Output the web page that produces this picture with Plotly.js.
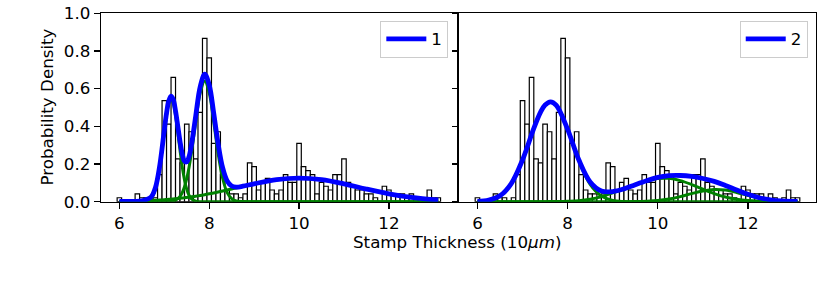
<!DOCTYPE html>
<html>
<head>
<meta charset="utf-8">
<script src="https://cdn.plot.ly/plotly-3.0.1.min.js"></script>
<style>html,body{margin:0;padding:0;background:#fff;}#chart{width:831px;height:285px;}</style>
</head>
<body>
<div id="chart"></div>
<script>
// Histogram bins (stamp thickness, units of 10 um) and density heights
const binCenters = [6.0,6.1,6.2,6.3,6.4,6.5,6.6,6.7,6.8,6.9,
  7.0,7.1,7.2,7.3,7.4,7.5,7.6,7.7,7.8,7.9,
  8.0,8.1,8.2,8.3,8.4,8.5,8.6,8.7,8.8,8.9,
  9.0,9.1,9.2,9.3,9.4,9.5,9.6,9.7,9.8,9.9,
  10.0,10.1,10.2,10.3,10.4,10.5,10.6,10.7,10.8,10.9,
  11.0,11.1,11.2,11.3,11.4,11.5,11.6,11.7,11.8,11.9,
  12.0,12.1,12.2,12.3,12.4,12.5,12.6,12.7,12.8,12.9,
  13.0,13.1];
const densities = [0.021,0,0,0,0.041,0.021,0.021,0,0.021,0.144,
  0.536,0.412,0.660,0.227,0.206,0.412,0.371,0.227,0.474,0.866,
  0.763,0.309,0.371,0.144,0.062,0.041,0.041,0.021,0.041,0.206,
  0.186,0.062,0.103,0.124,0.062,0.041,0.062,0.144,0.103,0.103,
  0.309,0.186,0.165,0.144,0.041,0.103,0.082,0.062,0.144,0.144,
  0.227,0.103,0.082,0.062,0.062,0.041,0.041,0.021,0,0.082,
  0.062,0.041,0.041,0.041,0.021,0.041,0.021,0,0.021,0.062,
  0.021,0.021];

// Model 1 curves (left panel)
const m1x = [6.0,6.5,6.7,6.8,6.9,7.0,7.05,7.1,7.15,7.2,7.25,7.3,7.35,7.4,7.45,7.5,7.55,7.6,7.7,7.8,7.9,8.0,8.1,8.2,8.3,8.4,8.5,8.6,8.75,9.0,9.5,10.0,10.5,11.0,11.5,12.0,12.5,13.1];
const m1Total = [0.002,0.005,0.023,0.073,0.194,0.380,0.470,0.535,0.560,0.541,0.482,0.401,0.319,0.253,0.215,0.211,0.239,0.295,0.456,0.611,0.677,0.619,0.470,0.304,0.179,0.110,0.083,0.077,0.082,0.095,0.117,0.125,0.117,0.095,0.067,0.042,0.023,0.009];
const m1CompA = [0,0.0004,0.016,0.066,0.185,0.369,0.458,0.522,0.545,0.522,0.458,0.369,0.273,0.185,0.115,0.066,0.034,0.016,0.003,0,0,0,0,0,0,0,0,0,0,0,0,0,0,0,0,0,0,0];
const m1CompB = [0,0,0,0,0,0,0.0004,0.001,0.002,0.004,0.008,0.016,0.028,0.048,0.079,0.123,0.181,0.253,0.423,0.577,0.640,0.577,0.423,0.253,0.123,0.048,0.016,0.004,0.0005,0,0,0,0,0,0,0,0,0];
const m1CompC = [0.0016,0.0043,0.0063,0.0075,0.0089,0.0106,0.0115,0.0125,0.0135,0.0146,0.0157,0.0169,0.0182,0.0196,0.021,0.0225,0.0241,0.0257,0.0293,0.0331,0.0373,0.0417,0.0464,0.0514,0.0566,0.0619,0.0674,0.073,0.0814,0.095,0.1167,0.125,0.1167,0.095,0.0674,0.0417,0.0225,0.0089];

// Model 2 curves (right panel)
const m2x = [6.0,6.25,6.5,6.75,7.0,7.25,7.4,7.5,7.62,7.75,8.0,8.25,8.5,8.75,9.0,9.25,9.5,9.75,10.0,10.25,10.5,10.75,11.0,11.25,11.5,11.75,12.0,12.25,12.5,12.75,13.1];
const m2Total = [0.001,0.008,0.031,0.096,0.222,0.389,0.475,0.513,0.530,0.511,0.384,0.221,0.105,0.057,0.054,0.068,0.090,0.111,0.129,0.138,0.139,0.134,0.123,0.108,0.086,0.062,0.039,0.021,0.010,0.004,0.001];
const m2CompD = [0.001,0.008,0.031,0.096,0.222,0.389,0.475,0.513,0.530,0.510,0.382,0.216,0.092,0.030,0.007,0.001,0,0,0,0,0,0,0,0,0,0,0,0,0,0,0];
const m2CompE = [0,0,0,0,0,0,0.0001,0.0002,0.0004,0.0007,0.002,0.005,0.013,0.027,0.047,0.067,0.089,0.109,0.1225,0.124,0.112,0.091,0.066,0.043,0.025,0.013,0.006,0.0025,0.001,0.0003,0];
const m2CompF = [0,0,0,0,0,0,0,0,0,0,0,0,0,0,0,0.0002,0.0007,0.0023,0.006,0.014,0.027,0.043,0.057,0.065,0.0615,0.049,0.033,0.019,0.009,0.0035,0.0007];

const xTicks = [6, 8, 10, 12];
const yTicks = [0, 0.2, 0.4, 0.6, 0.8, 1.0];
const yTickText = ['0.0', '0.2', '0.4', '0.6', '0.8', '1.0'];
const legendNames = ['1', '2'];
const xLabel = 'Stamp Thickness (10<i>μm</i>)';
const yLabel = 'Probability Density';

const BLUE = '#0000ff', GREEN = '#008000';

function hist(xa, ya) {
  return {type:'bar', x: binCenters, y: densities, width: 0.1, xaxis: xa, yaxis: ya,
    marker:{color:'#ffffff', line:{color:'#000000', width:1.2}}, showlegend:false, hoverinfo:'skip'};
}
function comp(x, y, xa, ya) {
  return {type:'scatter', mode:'lines', x: x, y: y, xaxis: xa, yaxis: ya,
    line:{color:GREEN, width:3, shape:'spline', smoothing:1}, showlegend:false, hoverinfo:'skip'};
}
function total(x, y, xa, ya, name, lg) {
  return {type:'scatter', mode:'lines', x: x, y: y, xaxis: xa, yaxis: ya, name: name, legend: lg,
    line:{color:BLUE, width:4.8, shape:'spline', smoothing:1}, showlegend:true, hoverinfo:'skip'};
}

const traces = [
  hist('x','y'),
  comp(m1x, m1CompA, 'x','y'), comp(m1x, m1CompB, 'x','y'), comp(m1x, m1CompC, 'x','y'),
  total(m1x, m1Total, 'x','y', legendNames[0], 'legend'),
  hist('x2','y2'),
  comp(m2x, m2CompD, 'x2','y2'), comp(m2x, m2CompE, 'x2','y2'), comp(m2x, m2CompF, 'x2','y2'),
  total(m2x, m2Total, 'x2','y2', legendNames[1], 'legend2')
];

const FS = 16.7;
const xAxisBase = {range:[5.59, 13.51], tickvals: xTicks, ticks:'outside', ticklen:6, tickwidth:1.3, tickcolor:'#000',
  showline:true, mirror:true, linecolor:'#000', linewidth:1.3, showgrid:false, zeroline:false,
  tickfont:{size:FS, color:'#000'}};
const yAxisBase = {range:[0, 1.0], tickvals: yTicks, ticktext: yTickText, ticks:'outside', ticklen:6, tickwidth:1.3, tickcolor:'#000',
  showline:true, mirror:true, linecolor:'#000', linewidth:1.3, showgrid:false, zeroline:false,
  tickfont:{size:FS, color:'#000'}};
const legendBase = {yanchor:'top', xanchor:'right', bgcolor:'rgba(255,255,255,0.8)', bordercolor:'#cccccc', borderwidth:1,
  font:{size:FS, color:'#000'}, itemwidth:40, tracegroupgap:0};

const layout = {
  width: 831, height: 285,
  margin:{l:0, r:0, t:0, b:0},
  paper_bgcolor:'#fff', plot_bgcolor:'#fff',
  font:{family:'DejaVu Sans', size:FS, color:'#000'},
  bargap:0, barmode:'overlay',
  hovermode:false,
  xaxis: Object.assign({}, xAxisBase, {domain:[0.1215, 0.5496], anchor:'y'}),
  yaxis: Object.assign({}, yAxisBase, {domain:[0.2923, 0.9537], anchor:'x'}),
  xaxis2: Object.assign({}, xAxisBase, {domain:[0.5523, 0.982], anchor:'y2'}),
  yaxis2: Object.assign({}, yAxisBase, {domain:[0.2923, 0.9537], anchor:'x2', matches:'y', showticklabels:false}),
  legend: Object.assign({}, legendBase, {x:0.5395, y:0.928}),
  legend2: Object.assign({}, legendBase, {x:0.972, y:0.928}),
  annotations:[
    {text: xLabel, xref:'paper', yref:'paper', x:0.55, y:0.151, xanchor:'center', yanchor:'middle', showarrow:false, font:{size:FS, color:'#000'}},
    {text: yLabel, xref:'paper', yref:'paper', x:0.0566, y:0.623, xanchor:'center', yanchor:'middle', textangle:-90, showarrow:false, font:{size:FS, color:'#000'}}
  ]
};

Plotly.newPlot('chart', traces, layout, {displayModeBar:false, staticPlot:true});
</script>
</body>
</html>
